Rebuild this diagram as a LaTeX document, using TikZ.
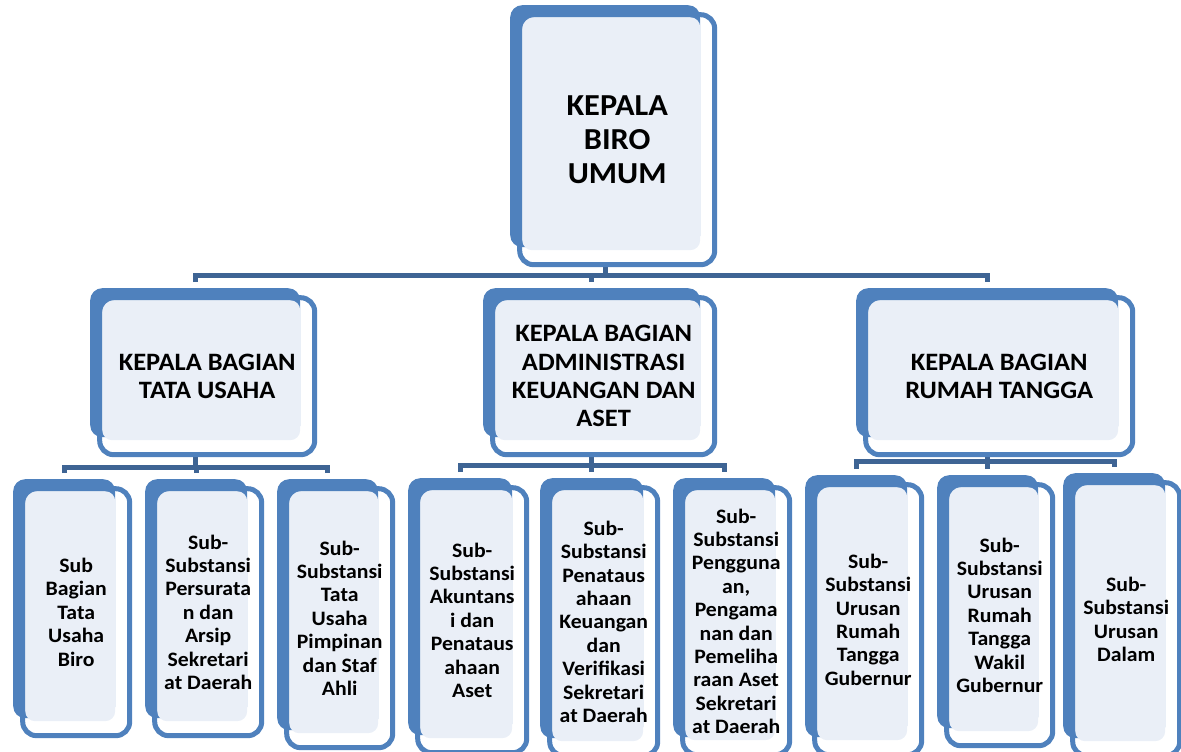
\documentclass[tikz,border=0pt]{standalone}
\usepackage{fontspec}
\setmainfont{Carlito}[FakeStretch=1.06]
\usetikzlibrary{backgrounds}

\definecolor{boxblue}{RGB}{79,129,189}
\definecolor{boxlight}{RGB}{234,239,247}
\definecolor{linkblue}{RGB}{62,100,148}

\tikzset{
	bluebox/.style={rectangle, rounded corners=12, fill=boxblue, inner sep=0, anchor=north west},
	lightbox/.style={rectangle, rounded corners=10, fill=boxlight, inner sep=0, anchor=north west},
	framebox/.style={rectangle, rounded corners=14, draw=boxblue, line width=5, inner sep=0, align=center},
	headfont/.style={font=\bfseries\fontsize{30.5}{34}\selectfont},
	midfont/.style={font=\bfseries\fontsize{25}{28.3}\selectfont},
	subfont/.style={font=\bfseries\fontsize{20.5}{23.4}\selectfont},
	conn/.style={draw=linkblue, line width=5}
}

\begin{document}
\begin{tikzpicture}[x=1pt, y=-1pt]
	\useasboundingbox (0, 0) rectangle (1181, 752);

	% kepala biro
	\node[bluebox, minimum width=190, minimum height=242] (biro-bg) at (510, 5) {};
	\node[lightbox, minimum width=178, minimum height=233] at ([shift={(12, 12)}]biro-bg.north west) {};
	\node[framebox, headfont, minimum width=195, minimum height=250] (biro) at ([shift={(12, 13.5)}]biro-bg.center) {KEPALA\\BIRO\\UMUM};

	% kepala bagian
	\node[bluebox, minimum width=210, minimum height=149] (tu-bg) at (90, 288) {};
	\node[lightbox, minimum width=198, minimum height=140] at ([shift={(12, 12)}]tu-bg.north west) {};
	\node[framebox, midfont, minimum width=215, minimum height=157] (tu) at ([shift={(12, 13.5)}]tu-bg.center) {KEPALA BAGIAN\\TATA USAHA};

	\node[bluebox, minimum width=217, minimum height=149] (keu-bg) at (483, 288) {};
	\node[lightbox, minimum width=205, minimum height=140] at ([shift={(12, 12)}]keu-bg.north west) {};
	\node[framebox, midfont, minimum width=222, minimum height=157] (keu) at ([shift={(12, 13.5)}]keu-bg.center) {KEPALA BAGIAN\\ADMINISTRASI\\KEUANGAN DAN\\ASET};

	\node[bluebox, minimum width=262, minimum height=149] (rt-bg) at (856, 288) {};
	\node[lightbox, minimum width=250, minimum height=140] at ([shift={(12, 12)}]rt-bg.north west) {};
	\node[framebox, midfont, minimum width=267, minimum height=157] (rt) at ([shift={(12, 13.5)}]rt-bg.center) {KEPALA BAGIAN\\RUMAH TANGGA};

	% sub bagian / sub-substansi
	\node[bluebox, minimum width=102, minimum height=239] (sbtu-bg) at (13, 479) {};
	\node[lightbox, minimum width=90, minimum height=230] at ([shift={(12, 12)}]sbtu-bg.north west) {};
	\node[framebox, subfont, minimum width=107, minimum height=247] (sbtu) at ([shift={(12, 13.5)}]sbtu-bg.center) {Sub\\Bagian\\Tata\\Usaha\\Biro};

	\node[bluebox, minimum width=102, minimum height=239] (surat-bg) at (145, 479) {};
	\node[lightbox, minimum width=90, minimum height=230] at ([shift={(12, 12)}]surat-bg.north west) {};
	\node[framebox, subfont, minimum width=107, minimum height=247] (surat) at ([shift={(12, 13.5)}]surat-bg.center) {Sub-\\Substansi\\Persurata\\n dan\\Arsip\\Sekretari\\at Daerah};

	\node[bluebox, minimum width=101, minimum height=251] (pimp-bg) at (277, 479) {};
	\node[lightbox, minimum width=89, minimum height=242] at ([shift={(12, 12)}]pimp-bg.north west) {};
	\node[framebox, subfont, minimum width=106, minimum height=259] (pimp) at ([shift={(12, 13.5)}]pimp-bg.center) {Sub-\\Substansi\\Tata\\Usaha\\Pimpinan\\dan Staf\\Ahli};

	\node[bluebox, minimum width=104, minimum height=257] (akun-bg) at (408, 478) {};
	\node[lightbox, minimum width=92, minimum height=248] at ([shift={(12, 12)}]akun-bg.north west) {};
	\node[framebox, subfont, minimum width=109, minimum height=265] (akun) at ([shift={(12, 13.5)}]akun-bg.center) {Sub-\\Substansi\\Akuntans\\i dan\\Penataus\\ahaan\\Aset};

	\node[bluebox, minimum width=103, minimum height=260] (verif-bg) at (540, 478) {};
	\node[lightbox, minimum width=91, minimum height=251] at ([shift={(12, 12)}]verif-bg.north west) {};
	\node[framebox, subfont, minimum width=108, minimum height=268] (verif) at ([shift={(12, 13.5)}]verif-bg.center) {Sub-\\Substansi\\Penataus\\ahaan\\Keuangan\\dan\\Verifikasi\\Sekretari\\at Daerah};

	\node[bluebox, minimum width=102, minimum height=259] (aset-bg) at (673, 478) {};
	\node[lightbox, minimum width=90, minimum height=250] at ([shift={(12, 12)}]aset-bg.north west) {};
	\node[framebox, subfont, minimum width=107, minimum height=267] (aset) at ([shift={(12, 13.5)}]aset-bg.center) {Sub-\\Substansi\\Pengguna\\an,\\Pengama\\nan dan\\Pemeliha\\raan Aset\\Sekretari\\at Daerah};

	\node[bluebox, minimum width=102, minimum height=262] (gub-bg) at (805, 475) {};
	\node[lightbox, minimum width=90, minimum height=253] at ([shift={(12, 12)}]gub-bg.north west) {};
	\node[framebox, subfont, minimum width=107, minimum height=270] (gub) at ([shift={(12, 13.5)}]gub-bg.center) {Sub-\\Substansi\\Urusan\\Rumah\\Tangga\\Gubernur};

	\node[bluebox, minimum width=101, minimum height=253] (wagub-bg) at (937, 475) {};
	\node[lightbox, minimum width=89, minimum height=244] at ([shift={(12, 12)}]wagub-bg.north west) {};
	\node[framebox, subfont, minimum width=106, minimum height=261] (wagub) at ([shift={(12, 13.5)}]wagub-bg.center) {Sub-\\Substansi\\Urusan\\Rumah\\Tangga\\Wakil\\Gubernur};

	\node[bluebox, minimum width=102, minimum height=265] (dalam-bg) at (1063, 473) {};
	\node[lightbox, minimum width=90, minimum height=256] at ([shift={(12, 12)}]dalam-bg.north west) {};
	\node[framebox, subfont, minimum width=107, minimum height=273] (dalam) at ([shift={(12, 13.5)}]dalam-bg.center) {Sub-\\Substansi\\Urusan\\Dalam};

	% connectors
	\begin{pgfonlayer}{background}
		\draw[conn]	(biro-bg.south |- biro.south) -- ++(0, 10);
		\draw[conn]	([yshift=6]tu-bg.north) -- ++(0, -7) -| ([yshift=6]rt-bg.north);
		\draw[conn]	([yshift=6]keu-bg.north) -- ++(0, -7);

		\draw[conn]	(tu-bg.south |- tu.south) -- ++(0, 13);
		\draw[conn]	([yshift=6]sbtu-bg.north) -- ++(0, -6) -| ([yshift=6]pimp-bg.north);
		\draw[conn]	([yshift=6]surat-bg.north) -- ++(0, -6);

		\draw[conn]	(keu-bg.south |- keu.south) -- ++(0, 11);
		\draw[conn]	([yshift=6]akun-bg.north) -- ++(0, -7) -| ([yshift=6]aset-bg.north);
		\draw[conn]	([yshift=6]verif-bg.north) -- ++(0, -7);

		\draw[conn]	(rt-bg.south |- rt.south) -- ++(0, 7);
		\draw[conn]	([yshift=6]gub-bg.north) -- ++(0, -8) -| ([yshift=6]dalam-bg.north);
		\draw[conn]	([yshift=6]wagub-bg.north) -- ++(0, -8);
	\end{pgfonlayer}
\end{tikzpicture}
\end{document}
